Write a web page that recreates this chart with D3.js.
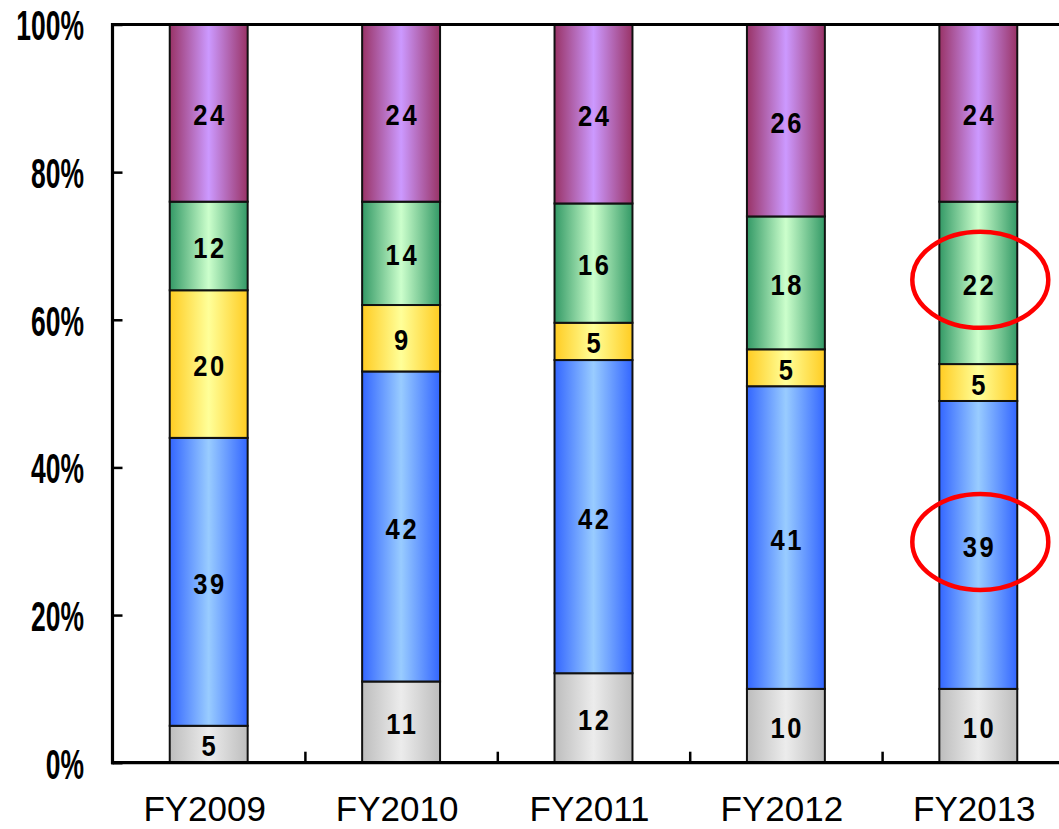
<!DOCTYPE html>
<html>
<head>
<meta charset="utf-8">
<script src="https://cdn.jsdelivr.net/npm/d3@7"></script>
<style>
  html, body { margin: 0; padding: 0; background: #fff; }
  svg { display: block; }
</style>
</head>
<body>
<svg id="chart" width="1059" height="829"></svg>
<script>
// Fiscal years along the x axis
const categories = ["FY2009", "FY2010", "FY2011", "FY2012", "FY2013"];

// Stacked segments, bottom to top (values as labelled on each segment)
const grayVals   = [5, 11, 12, 10, 10];
const blueVals   = [39, 42, 42, 41, 39];
const yellowVals = [20, 9, 5, 5, 5];
const greenVals  = [12, 14, 16, 18, 22];
const purpleVals = [24, 24, 24, 26, 24];

// Y axis tick labels
const yTicks = [0, 0.2, 0.4, 0.6, 0.8, 1.0];
const yTickLabels = ["0%", "20%", "40%", "60%", "80%", "100%"];

// Segments highlighted with a red ring: [category index, series key]
const highlights = [[4, "green"], [4, "blue"]];

const seriesList = [
  { key: "gray",   values: grayVals,   edge: "#bdbdbd", mid: "#ececec" },
  { key: "blue",   values: blueVals,   edge: "#3366ff", mid: "#99ccff" },
  { key: "yellow", values: yellowVals, edge: "#ffcc22", mid: "#ffff99" },
  { key: "green",  values: greenVals,  edge: "#339966", mid: "#ccffcc" },
  { key: "purple", values: purpleVals, edge: "#993366", mid: "#cc99ff" }
];

const svg = d3.select("#chart");
const plotLeft = 112.5, plotTop = 24.5, plotBottom = 762.7;
const bandStep = 192.4;

const x = d3.scaleBand()
  .domain(categories)
  .range([plotLeft, plotLeft + bandStep * categories.length])
  .padding(0);
const barW = x.bandwidth() * 0.405;

const y = d3.scaleLinear().domain([0, 1]).range([plotBottom, plotTop]);

// Horizontal edge-to-centre gradients for each series
const defs = svg.append("defs");
seriesList.forEach(s => {
  const g = defs.append("linearGradient")
    .attr("id", "grad-" + s.key)
    .attr("x1", "0%").attr("x2", "100%").attr("y1", "0%").attr("y2", "0%");
  g.append("stop").attr("offset", "0%").attr("stop-color", s.edge);
  g.append("stop").attr("offset", "50%").attr("stop-color", s.mid);
  g.append("stop").attr("offset", "100%").attr("stop-color", s.edge);
});

// Build 100% stacked data (each category normalised by its own total)
const rows = categories.map((c, i) => {
  const r = { cat: c };
  seriesList.forEach(s => { r[s.key] = s.values[i]; });
  return r;
});
const keys = seriesList.map(s => s.key);
const stacked = d3.stack().keys(keys).offset(d3.stackOffsetExpand)(rows);

// Bars
const layers = svg.append("g").selectAll("g")
  .data(stacked)
  .join("g")
  .attr("fill", d => `url(#grad-${d.key})`);

layers.selectAll("rect")
  .data(d => d.map(p => ({ p, key: d.key })))
  .join("rect")
  .attr("x", d => x(d.p.data.cat) + (x.bandwidth() - barW) / 2)
  .attr("width", barW)
  .attr("y", d => y(d.p[1]))
  .attr("height", d => y(d.p[0]) - y(d.p[1]))
  .attr("stroke", "#111")
  .attr("stroke-width", 2);

// Segment value labels
const labelG = svg.append("g");
stacked.forEach(layer => {
  layer.forEach(p => {
    const v = p.data[layer.key];
    const cx = x(p.data.cat) + x.bandwidth() / 2;
    const cy = (y(p[0]) + y(p[1])) / 2;
    labelG.append("text")
      .attr("transform", `translate(${cx},${cy + 2}) scale(0.88,1)`)
      .attr("text-anchor", "middle")
      .attr("dominant-baseline", "central")
      .attr("dx", 1.5)
      .attr("font-family", "'Liberation Sans', Arial, sans-serif")
      .attr("font-weight", "bold")
      .attr("font-size", 29)
      .attr("letter-spacing", 3)
      .attr("fill", "#000")
      .text(v);
  });
});

// Frame: top border, left axis, bottom axis
const frameRight = 1059 + 10;
svg.append("line")
  .attr("x1", plotLeft).attr("x2", frameRight)
  .attr("y1", plotTop).attr("y2", plotTop)
  .attr("stroke", "#000").attr("stroke-width", 3);

const yAxis = svg.append("g")
  .attr("transform", `translate(${plotLeft},0)`)
  .call(d3.axisRight(y).tickValues(yTicks).tickSize(10).tickFormat(""));
yAxis.select(".domain").remove();
yAxis.selectAll(".tick line").attr("stroke", "#000").attr("stroke-width", 2.5);
svg.append("line")
  .attr("x1", plotLeft).attr("x2", plotLeft)
  .attr("y1", plotTop - 1.5).attr("y2", plotBottom + 1.5)
  .attr("stroke", "#000").attr("stroke-width", 3.2);

// Y tick labels, condensed bold
const yl = svg.append("g");
yTicks.forEach((t, i) => {
  yl.append("text")
    .attr("transform", `translate(84,${y(t) + 1}) scale(0.63,1)`)
    .attr("text-anchor", "end")
    .attr("dominant-baseline", "central")
    .attr("font-family", "'Liberation Sans', Arial, sans-serif")
    .attr("font-weight", "bold")
    .attr("font-size", 42)
    .attr("fill", "#000")
    .text(yTickLabels[i]);
});

// X axis: ticks point upward at band boundaries
const xAxisScale = d3.scaleLinear()
  .domain([0, categories.length])
  .range([plotLeft, plotLeft + x.step() * categories.length]);
const xAxis = svg.append("g")
  .attr("transform", `translate(0,${plotBottom})`)
  .call(d3.axisTop(xAxisScale).tickValues(d3.range(1, categories.length)).tickSize(11).tickFormat(""));
xAxis.select(".domain").remove();
xAxis.selectAll(".tick line").attr("stroke", "#000").attr("stroke-width", 2.5);
svg.append("line")
  .attr("x1", plotLeft - 1.5).attr("x2", frameRight)
  .attr("y1", plotBottom).attr("y2", plotBottom)
  .attr("stroke", "#000").attr("stroke-width", 3.2);

// Category labels
svg.append("g").selectAll("text")
  .data(categories)
  .join("text")
  .attr("x", d => x(d) + x.bandwidth() / 2 - 4)
  .attr("y", 821)
  .attr("text-anchor", "middle")
  .attr("font-family", "'Liberation Sans', Arial, sans-serif")
  .attr("font-size", 35)
  .attr("fill", "#000")
  .text(d => d);

// Red rings around highlighted segments
highlights.forEach(([ci, key]) => {
  const layer = stacked.find(l => l.key === key);
  const p = layer[ci];
  const cx = x(categories[ci]) + x.bandwidth() / 2 + 2;
  const cy = (y(p[0]) + y(p[1])) / 2 - 3;
  svg.append("ellipse")
    .attr("cx", cx).attr("cy", cy)
    .attr("rx", 68).attr("ry", 48)
    .attr("fill", "none")
    .attr("stroke", "#ff0000")
    .attr("stroke-width", 4.5);
});
</script>
</body>
</html>
